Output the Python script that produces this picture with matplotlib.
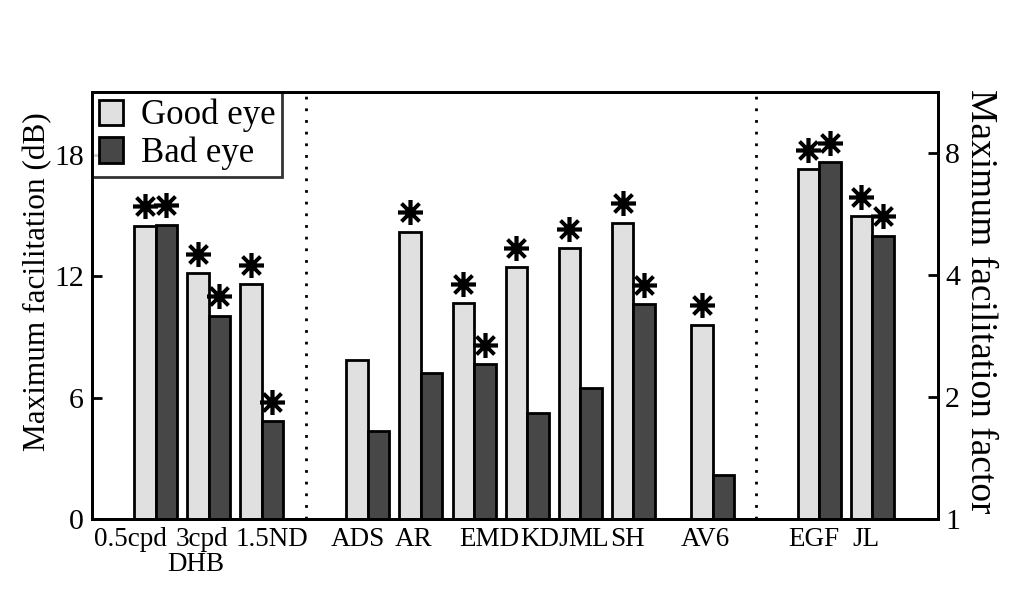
import numpy as np
import matplotlib
matplotlib.use('Agg')
import matplotlib.pyplot as plt
from matplotlib.transforms import blended_transform_factory

plt.rcParams['font.family'] = ['Liberation Serif', 'DejaVu Serif']

# ---------------------------------------------------------------------------
# Data (dB)
# ---------------------------------------------------------------------------
pair_pos = [0, 1, 2, 4, 5, 6, 7, 8, 9, 10.5, 12.5, 13.5]
good_eye = [14.5, 12.15, 11.6, 7.85, 14.2, 10.65, 12.45, 13.4, 14.65, 9.6, 17.3, 14.95]
bad_eye = [14.55, 10.05, 4.85, 4.35, 7.2, 7.65, 5.25, 6.45, 10.6, 2.15, 17.65, 14.0]
good_star = [1, 1, 1, 0, 1, 1, 1, 1, 1, 1, 1, 1]
bad_star = [1, 1, 1, 0, 0, 1, 0, 0, 1, 0, 1, 1]

label_pos = [-0.47, 0.87, 2.19, 3.81, 4.87, 6.29, 7.33, 8.15, 8.89, 10.36, 12.40, 13.38]
labels = ['0.5cpd', '3cpd', '1.5ND', 'ADS', 'AR', 'EMD', 'KDJ', 'ML', 'SH', 'AV6', 'EGF', 'JL']
separators = [2.83, 11.32]

factor_ticks = [1, 2, 4, 8]

# ---------------------------------------------------------------------------
# Plot
# ---------------------------------------------------------------------------
width = 0.405
star_off = 0.95
x = np.array(pair_pos)
good = np.array(good_eye)
bad = np.array(bad_eye)

fig = plt.figure(figsize=(10.09, 6.12), dpi=100)
ax = fig.add_axes([0.0912, 0.152, 0.8384, 0.6977])

ax.bar(x - width / 2, good, width, color='#e0e0e0', edgecolor='black', linewidth=2, label='Good eye', zorder=3)
ax.bar(x + width / 2, bad, width, color='#474747', edgecolor='black', linewidth=2, label='Bad eye', zorder=3)

gs = np.array(good_star, dtype=bool)
bs = np.array(bad_star, dtype=bool)
star = dict(marker=(8, 2, 0), markersize=18, markeredgewidth=2.6, color='black', linestyle='none', zorder=4)
ax.plot(x[gs] - width / 2, good[gs] + star_off, **star)
ax.plot(x[bs] + width / 2, bad[bs] + star_off, **star)

for s in separators:
    ax.axvline(s, color='black', linewidth=2, linestyle=(0, (1, 3.2)), zorder=2)

ax.set_xlim(-1.196, 14.74)
ax.set_ylim(0, 21.1)
ax.set_yticks([0, 6, 12, 18])
ax.set_xticks(label_pos)
ax.set_xticklabels(labels)
ax.tick_params(axis='x', length=0, pad=6, labelsize=19.5)
ax.tick_params(axis='y', direction='in', length=7, width=2, pad=6, labelsize=21.5)
for sp in ax.spines.values():
    sp.set_linewidth(2)
ax.set_ylabel('Maximum facilitation (dB)', fontsize=22.5)
ax.yaxis.set_label_coords(-0.047, 0.555)

trans = blended_transform_factory(ax.transData, ax.transAxes)
ax.text(0.76, -0.077, 'DHB', transform=trans, ha='center', va='top', fontsize=19.5)

ax2 = ax.twinx()
ax2.set_ylim(ax.get_ylim())
ax2.set_yticks(20 * np.log10(factor_ticks))
ax2.set_yticklabels([str(f) for f in factor_ticks])
ax2.tick_params(axis='y', direction='in', length=7, width=2, pad=5, labelsize=21.5)
for sp in ax2.spines.values():
    sp.set_linewidth(2)
ax2.set_ylabel('Maximum facilitation factor', fontsize=27, rotation=270, va='bottom')
ax2.yaxis.set_label_coords(1.030, 0.511)

leg = ax.legend(loc='upper left', prop={'size': 25}, frameon=True, fancybox=False,
                borderaxespad=0, borderpad=0.2, handlelength=0.7, handleheight=0.75,
                handletextpad=0.5, labelspacing=0.12)
leg.get_frame().set_edgecolor('black')
leg.get_frame().set_linewidth(2)
leg.set_zorder(5)

fig.savefig('out.png', dpi=100)
